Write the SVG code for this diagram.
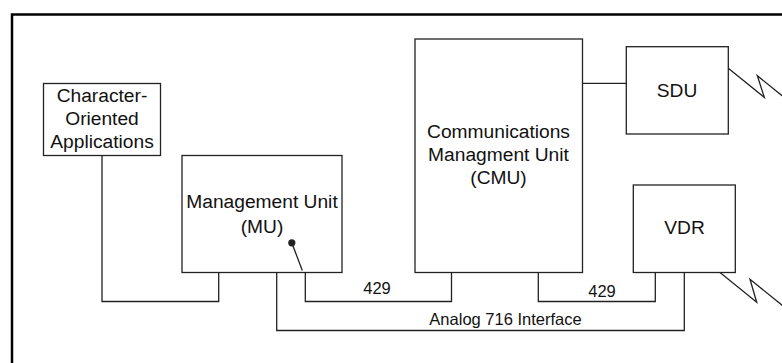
<svg xmlns="http://www.w3.org/2000/svg" width="782" height="363" viewBox="0 0 782 363">
<style>
.box{fill:#fff;stroke:#222;stroke-width:1.3}
.ln{fill:none;stroke:#222;stroke-width:1.3}
.t{font-family:"Liberation Sans",Arial,sans-serif;font-size:19.2px;fill:#111;text-anchor:middle}
.s{font-family:"Liberation Sans",Arial,sans-serif;font-size:16.5px;fill:#111;text-anchor:middle}
</style>
<rect x="0" y="0" width="782" height="363" fill="#fff"/>
<path d="M12 400 V14.5 H800" fill="none" stroke="#000" stroke-width="2.5"/>
<g id="char">
<rect class="box" x="43.5" y="83.5" width="117" height="72"/>
<text class="t" x="102" y="102.3">Character-</text>
<text class="t" x="102" y="125">Oriented</text>
<text class="t" x="102" y="148.3">Applications</text>
</g>
<g id="mu">
<rect class="box" x="182" y="155.5" width="160" height="117"/>
<text class="t" x="262" y="208.3">Management Unit</text>
<text class="t" x="262" y="233.3">(MU)</text>
</g>
<g id="cmu">
<rect class="box" x="415" y="39" width="167.5" height="233.5"/>
<text class="t" x="498.5" y="137.7">Communications</text>
<text class="t" x="498.5" y="161">Managment Unit</text>
<text class="t" x="498.5" y="184.3">(CMU)</text>
</g>
<g id="sdu">
<rect class="box" x="626.3" y="46.7" width="102" height="87.3"/>
<text class="t" x="677" y="96.7">SDU</text>
</g>
<g id="vdr">
<rect class="box" x="633.3" y="185" width="102" height="87.5"/>
<text class="t" x="684.5" y="234.3">VDR</text>
</g>
<g id="connectors">
<path class="ln" d="M102 155.5 V301.5 H218.7 V272.5"/>
<path class="ln" d="M305.3 272.5 V301.5 H451.5 V272.5"/>
<path class="ln" d="M276.7 272.5 V330.5 H684.3 V272.5"/>
<path class="ln" d="M538.3 272.5 V301.5 H655.3 V272.5"/>
<path class="ln" d="M582.5 83.3 H626.3"/>
<path class="ln" d="M291.8 242.8 L302.3 270.5"/>
<circle cx="291.8" cy="242.8" r="3.6" fill="#222"/>
<path class="ln" d="M728.3 68.3 L764.3 97.3 L757.3 75.7 L790 102"/>
<path class="ln" d="M720 272.5 L756.7 302.3 L750 279.3 L790 311.5"/>
<text class="s" x="377" y="294.3">429</text>
<text class="s" x="602" y="297.3">429</text>
<text class="s" x="505.5" y="324.5">Analog 716 Interface</text>
</g>
</svg>
